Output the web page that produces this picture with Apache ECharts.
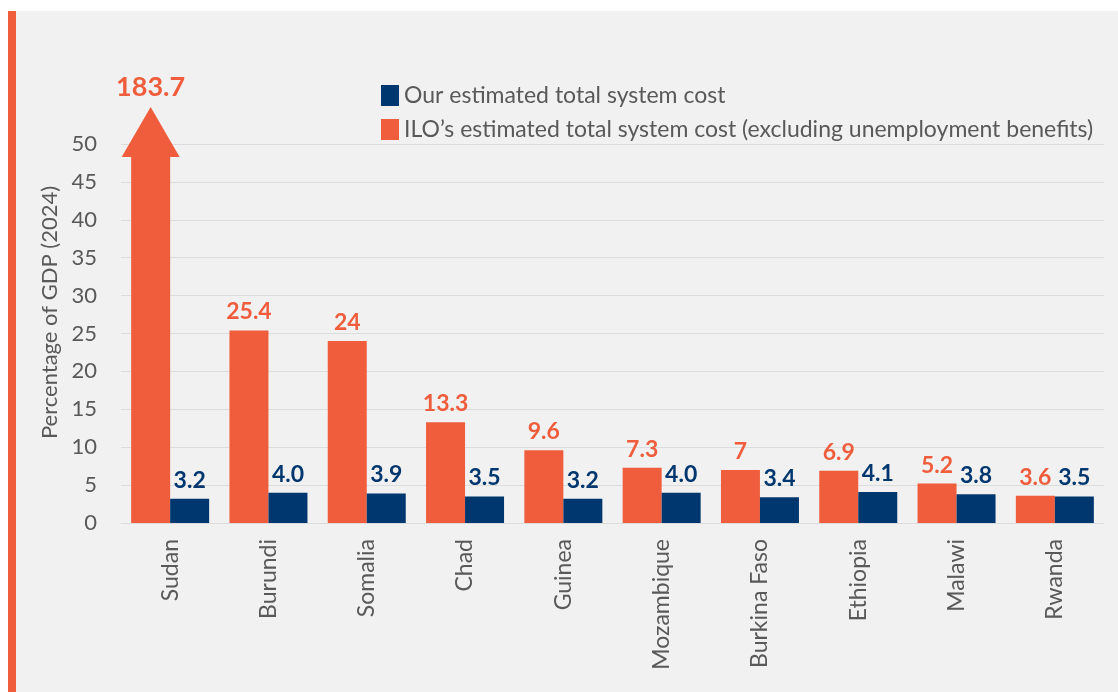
<!DOCTYPE html>
<html>
<head>
<meta charset="utf-8">
<script src="https://cdn.jsdelivr.net/npm/echarts@6/dist/echarts.min.js"></script>
<style>
  html, body { margin: 0; padding: 0; background: #ffffff; }
  #chart { width: 1118px; height: 692px; }
</style>
</head>
<body>
<div id="chart"></div>
<script>
// ---------- data ----------
const countries = ['Sudan', 'Burundi', 'Somalia', 'Chad', 'Guinea', 'Mozambique', 'Burkina Faso', 'Ethiopia', 'Malawi', 'Rwanda'];
const iloCost = [183.7, 25.4, 24, 13.3, 9.6, 7.3, 7, 6.9, 5.2, 3.6];
const ourCost = [3.2, 4.0, 3.9, 3.5, 3.2, 4.0, 3.4, 4.1, 3.8, 3.5];
const yTicks = [0, 5, 10, 15, 20, 25, 30, 35, 40, 45, 50];

const ORANGE = '#f05d3c';
const BLUE = '#00376f';
const GREY_TXT = '#595959';
const FONT = 'Lato';
const axisMax = yTicks[yTicks.length - 1];

// values above the axis are drawn as an arrow instead of a bar
const iloBars = iloCost.map(v => (v > axisMax ? null : v));
const iloOver = iloCost.map((v, i) => [i, v]).filter(d => d[1] > axisMax);

const chart = echarts.init(document.getElementById('chart'));

chart.setOption({
  animation: false,
  textStyle: { fontFamily: FONT },
  graphic: [
    { type: 'rect', z: -10, shape: { x: 16, y: 11, width: 1102, height: 681 }, style: { fill: '#f1f1f1' } },
    { type: 'rect', z: -10, shape: { x: 8, y: 11, width: 8, height: 681 }, style: { fill: ORANGE } }
  ],
  legend: {
    orient: 'vertical',
    left: 381,
    top: 84,
    padding: 0,
    icon: 'rect',
    itemWidth: 18,
    itemHeight: 21,
    itemGap: 11,
    data: ['Our estimated total system cost', 'ILO\u2019s estimated total system cost (excluding unemployment benefits)'],
    textStyle: { fontFamily: FONT, fontSize: 23, lineHeight: 21, color: GREY_TXT }
  },
  grid: { left: 121, right: 14, top: 144, bottom: 169 },
  xAxis: {
    type: 'category',
    data: countries,
    axisTick: { show: false },
    axisLine: { lineStyle: { color: '#dcdcdc', width: 1 } },
    axisLabel: { rotate: 90, margin: 16, fontSize: 23, color: GREY_TXT, fontFamily: FONT }
  },
  yAxis: {
    type: 'value',
    min: 0,
    max: axisMax,
    interval: 5,
    name: 'Percentage of GDP (2024)',
    nameLocation: 'middle',
    nameGap: 60,
    nameTextStyle: { fontSize: 22, color: GREY_TXT, fontFamily: FONT, padding: [0, 0, 0, 42] },
    axisLine: { show: false },
    axisTick: { show: false },
    axisLabel: { margin: 24, fontSize: 22, color: GREY_TXT, fontFamily: FONT },
    splitLine: { lineStyle: { color: '#dcdcdc', width: 1 } }
  },
  series: [
    {
      name: 'ILO\u2019s estimated total system cost (excluding unemployment benefits)',
      type: 'bar',
      barWidth: 39,
      barGap: '0%',
      data: iloBars,
      itemStyle: { color: ORANGE },
      label: {
        show: true, position: 'top', distance: 7,
        color: ORANGE, fontSize: 23, fontWeight: 'bold', fontFamily: FONT
      }
    },
    {
      name: 'Our estimated total system cost',
      type: 'bar',
      barWidth: 39,
      barGap: '0%',
      data: ourCost,
      itemStyle: { color: BLUE },
      label: {
        show: true, position: 'top', distance: 7,
        color: BLUE, fontSize: 23, fontWeight: 'bold', fontFamily: FONT,
        formatter: p => p.value.toFixed(1)
      }
    },
    {
      // off-scale value: shaft + arrow head above the axis top
      type: 'custom',
      clip: false,
      silent: true,
      data: iloOver,
      renderItem: function (params, api) {
        const base = api.coord([api.value(0), 0]);
        const top = api.coord([api.value(0), axisMax]);
        const cx = base[0] - 19.5;
        const shaftTop = top[1] + 13;
        const tipY = shaftTop - 50;
        return {
          type: 'group',
          children: [
            { type: 'rect', shape: { x: base[0] - 39, y: shaftTop, width: 39, height: base[1] - shaftTop }, style: { fill: ORANGE } },
            { type: 'polygon', shape: { points: [[cx - 29, shaftTop], [cx + 29, shaftTop], [cx, tipY]] }, style: { fill: ORANGE } },
            {
              type: 'text',
              style: {
                x: cx, y: tipY - 6, text: String(api.value(1)),
                align: 'center', verticalAlign: 'bottom',
                fill: ORANGE, font: 'bold 27px ' + FONT
              }
            }
          ]
        };
      }
    }
  ]
});
</script>
</body>
</html>
